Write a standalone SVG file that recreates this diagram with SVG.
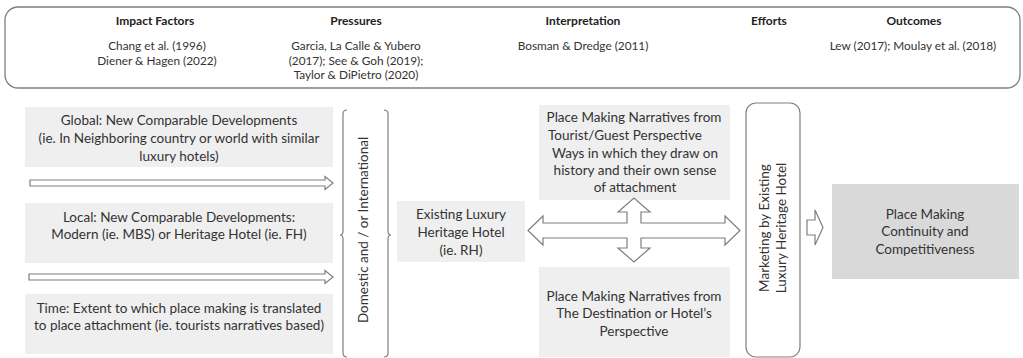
<svg xmlns="http://www.w3.org/2000/svg" width="1023" height="358" viewBox="0 0 1023 358">
<style>
text{font-family:Lato,"Liberation Sans",sans-serif;fill:#333;text-anchor:middle}
.h{font-size:12px;font-weight:bold;fill:#222}
.c{font-size:11.8px}
.t{font-size:13.5px}
.box{fill:#efefef}
.ln{fill:none;stroke:#7f7f7f;stroke-width:1.2}
.ar{fill:#fff;stroke:#7f7f7f;stroke-width:1.2;stroke-linejoin:miter}
</style>
<rect width="1023" height="358" fill="#fff"/>
<g id="header">
<rect x="5" y="7" width="1015" height="81" rx="13" fill="#fff" stroke="#7f7f7f" stroke-width="1.3"/>
<text class="h" x="155" y="25">Impact Factors</text>
<text class="h" x="356" y="25">Pressures</text>
<text class="h" x="583" y="25">Interpretation</text>
<text class="h" x="769" y="25">Efforts</text>
<text class="h" x="914" y="25">Outcomes</text>
<text class="c" x="157" y="50">Chang et al. (1996)</text>
<text class="c" x="157" y="65">Diener &amp; Hagen (2022)</text>
<text class="c" x="356" y="50">Garcia, La Calle &amp; Yubero</text>
<text class="c" x="356" y="65">(2017); See &amp; Goh (2019);</text>
<text class="c" x="356" y="79">Taylor &amp; DiPietro (2020)</text>
<text class="c" x="583" y="50">Bosman &amp; Dredge (2011)</text>
<text class="c" x="913" y="50">Lew (2017); Moulay et al. (2018)</text>
</g>
<g id="global">
<rect class="box" x="25" y="107" width="308" height="60"/>
<text class="t" x="179" y="125">Global: New Comparable Developments</text>
<text class="t" x="179" y="143">(ie. In Neighboring country or world with similar</text>
<text class="t" x="179" y="161">luxury hotels)</text>
</g>
<g id="local">
<rect class="box" x="25" y="203" width="308" height="60"/>
<text class="t" x="179" y="222">Local: New Comparable Developments:</text>
<text class="t" x="179" y="239">Modern (ie. MBS) or Heritage Hotel (ie. FH)</text>
</g>
<g id="time">
<rect class="box" x="25" y="294" width="308" height="60"/>
<text class="t" x="179" y="313">Time: Extent to which place making is translated</text>
<text class="t" x="179" y="330">to place attachment (ie. tourists narratives based)</text>
</g>
<g id="domestic">
<path class="ln" d="M347,110 Q343,110 343,114 L343,231 Q343,235 340,235 Q343,235 343,239 L343,353 Q343,357 347,357"/>
<path class="ln" d="M384,110 Q388,110 388,114 L388,231 Q388,235 391,235 Q388,235 388,239 L388,353 Q388,357 384,357"/>
<text class="t" transform="translate(368,230) rotate(-90)">Domestic and / or International</text>
</g>
<g id="existing">
<rect class="box" x="397" y="201" width="128" height="61"/>
<text class="t" x="461" y="219">Existing Luxury</text>
<text class="t" x="461" y="237">Heritage Hotel</text>
<text class="t" x="461" y="255">(ie. RH)</text>
</g>
<g id="tourist">
<rect class="box" x="539" y="105" width="191" height="95"/>
<text class="t" x="634" y="122">Place Making Narratives from</text>
<text class="t" x="548" y="140" style="text-anchor:start">Tourist/Guest Perspective</text>
<text class="t" x="635" y="158">Ways in which they draw on</text>
<text class="t" x="635" y="175">history and their own sense</text>
<text class="t" x="635" y="192">of attachment</text>
</g>
<g id="destination">
<rect class="box" x="539" y="267" width="191" height="90"/>
<text class="t" x="634" y="301">Place Making Narratives from</text>
<text class="t" x="634" y="318">The Destination or Hotel’s</text>
<text class="t" x="634" y="336">Perspective</text>
</g>
<g id="marketing">
<rect x="746" y="103" width="54" height="254" rx="10" fill="#fff" stroke="#7f7f7f" stroke-width="1.2"/>
<text class="t" transform="translate(769,228) rotate(-90)">Marketing by Existing</text>
<text class="t" transform="translate(786,228) rotate(-90)">Luxury Heritage Hotel</text>
</g>
<g id="outcome">
<rect x="832" y="184" width="187" height="95" fill="#d9d9d9"/>
<text class="t" x="925" y="219">Place Making</text>
<text class="t" x="925" y="236">Continuity and</text>
<text class="t" x="925" y="254">Competitiveness</text>
</g>
<g id="connectors">
<path class="ar" d="M30,180 L325,180 L325,176.5 L333,183 L325,189.5 L325,186 L30,186 Z"/>
<path class="ar" d="M29,274 L325,274 L325,270.5 L333,277 L325,283.5 L325,280 L29,280 Z"/>
<path class="ar" d="M528,230.5 L543,216 L543,223 L627,223 L627,212 L618,212 L634,198 L650,212 L641,212 L641,223 L725,223 L725,216 L740,230.5 L725,245 L725,238 L641,238 L641,248 L650,248 L634,262 L618,248 L627,248 L627,238 L543,238 L543,245 Z"/>
<path class="ar" d="M807,220 L815,220 L815,210 L823,227.5 L815,245 L815,235 L807,235 Z"/>
</g>
</svg>
